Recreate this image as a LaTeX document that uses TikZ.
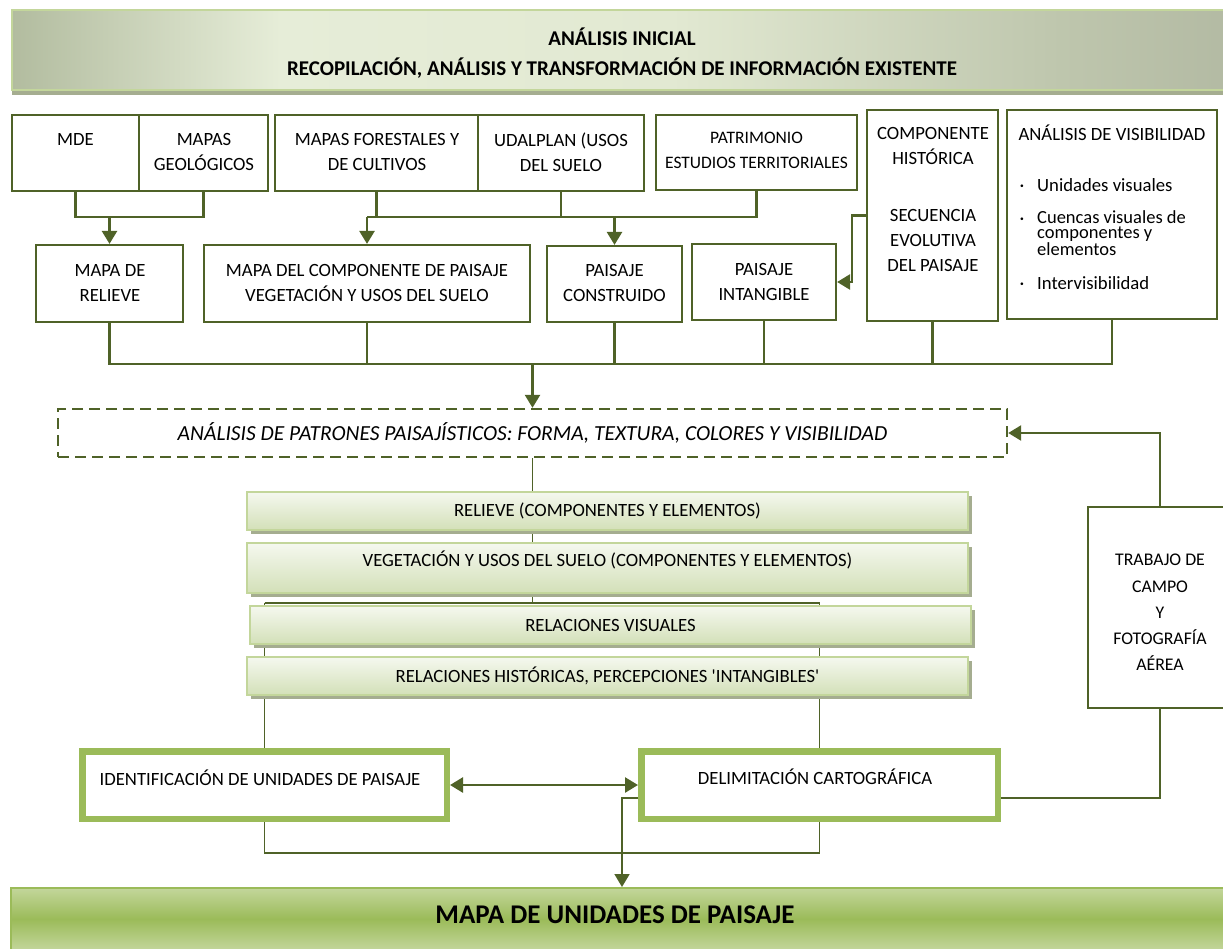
\documentclass[tikz,border=0pt]{standalone}
\usepackage{fontspec}
\setmainfont{Carlito}
\usetikzlibrary{arrows.meta,shadows,backgrounds}
\definecolor{olive}{HTML}{4F6228}
\definecolor{lgreen}{HTML}{9BBB59}
\definecolor{pgreen}{HTML}{C3D69B}
\definecolor{shad}{HTML}{A5AD90}
\definecolor{gtop}{HTML}{F5F8EF}
\definecolor{gbot}{HTML}{D3E0B8}
\definecolor{tbA}{HTML}{B2BC9F}
\definecolor{tbB}{HTML}{E6EDD8}
\definecolor{tbC}{HTML}{E2E9D2}
\definecolor{tbD}{HTML}{BEC6AD}
\definecolor{tbE}{HTML}{B3BAA3}
\pgfdeclarehorizontalshading{topban}{100bp}{color(0bp)=(tbA); color(25bp)=(tbA); color(36bp)=(tbB); color(52bp)=(tbC); color(68bp)=(tbD); color(75bp)=(tbE); color(100bp)=(tbE)}
\newcommand\fsz{\fontsize{18.7}{25}\selectfont}
\begin{document}
\begin{tikzpicture}[x=1pt,y=-1pt,
  box/.style={draw=olive, line width=2.2pt, fill=white, inner sep=0pt},
  lbl/.style={font=\fsz, align=center, inner sep=0pt},
  conn/.style={draw=olive, line width=2.6pt},
  thn/.style={draw=olive, line width=1.8pt},
  arr/.style={conn, -{Triangle[length=13pt,width=15pt]}},
  arrthin/.style={thn, -{Triangle[length=13pt,width=15pt]}},
  gbox/.style={draw=pgreen, line width=2pt, top color=gtop, bottom color=gbot, inner sep=0pt, font=\fsz,
    general shadow={fill=shad, shadow xshift=4pt, shadow yshift=-4pt}},
  gbox2/.style={draw=lgreen, line width=6.5pt, fill=white, inner sep=0pt},
  dot/.style={font=\fsz, inner sep=0pt, anchor=base}
]
\useasboundingbox (0,0) rectangle (1223,948);

% top banner
\node[draw=pgreen, line width=2pt, shade, shading=topban, minimum width=1220pt, minimum height=80pt, inner sep=0pt,
  general shadow={fill=shad, shadow xshift=0pt, shadow yshift=-5pt}] (tb) at (622,50) {};
\node[lbl, font=\fontsize{21}{25}\selectfont\bfseries] (tb1) at (622,37) {ANÁLISIS INICIAL};
\node[lbl, font=\fontsize{21}{25}\selectfont\bfseries] (tb2) at (622,68) {RECOPILACIÓN, ANÁLISIS Y TRANSFORMACIÓN DE INFORMACIÓN EXISTENTE};

% row 1
\node[box, minimum width=127pt, minimum height=76pt] (mde) at (75.5,153) {};
\node[box, minimum width=129pt, minimum height=76pt] (geo) at (203.5,153) {};
\node[box, minimum width=203pt, minimum height=76pt] (for) at (376.5,153) {};
\node[box, minimum width=166pt, minimum height=76pt] (udal) at (561,153) {};
\node[box, minimum width=201pt, minimum height=75pt] (pat) at (756.5,152.5) {};
\node[box, minimum width=131pt, minimum height=211pt] (comp) at (932.5,215.5) {};
\node[box, minimum width=210pt, minimum height=209pt] (vis) at (1112,214.5) {};

\node[lbl] (tmde) at (75.5,139) {MDE};
\node[lbl] (tgeo) at (204,152) {MAPAS\\GEOLÓGICOS};
\node[lbl] (tfor) at (377,152) {MAPAS FORESTALES Y\\DE CULTIVOS};
\node[lbl] (tudal) at (561,152) {UDALPLAN (USOS\\DEL SUELO};
\node[lbl, font=\fontsize{17.5}{25}\selectfont] (tpat) at (756.5,150) {PATRIMONIO\\ESTUDIOS TERRITORIALES};
\node[lbl] (tcomp1) at (933,145.5) {COMPONENTE\\HISTÓRICA};
\node[lbl] (tcomp2) at (933,240) {SECUENCIA\\EVOLUTIVA\\DEL PAISAJE};
\node[lbl] (tvis) at (1112,133) {ANÁLISIS DE VISIBILIDAD};
\node[dot] (d1) at (1022,191) {·};
\node[lbl, anchor=west] (v1) at (1037,185) {Unidades visuales};
\node[dot] (d2) at (1022,224) {·};
\node[lbl, anchor=west, align=left, font=\fontsize{18.5}{15.5}\selectfont] (v2) at (1037,233) {Cuencas visuales de\\componentes y\\elementos};
\node[dot] (d3) at (1022,289) {·};
\node[lbl, anchor=west] (v3) at (1037,283) {Intervisibilidad};

% row 2
\node[box, minimum width=147pt, minimum height=77pt] (rel) at (109.5,283.5) {};
\node[box, minimum width=326pt, minimum height=77pt] (veg) at (367,283.5) {};
\node[box, minimum width=135pt, minimum height=76pt] (con) at (614.5,284) {};
\node[box, minimum width=144pt, minimum height=76pt] (int) at (764,282) {};
\node[lbl] (trel) at (110,282.5) {MAPA DE\\RELIEVE};
\node[lbl] (tveg) at (367,282.5) {MAPA DEL COMPONENTE DE PAISAJE\\VEGETACIÓN Y USOS DEL SUELO};
\node[lbl] (tcon) at (614.5,282.5) {PAISAJE\\CONSTRUIDO};
\node[lbl] (tint) at (764,281.5) {PAISAJE\\INTANGIBLE};

% dashed analysis box
\node[draw=olive, line width=2.4pt, dash pattern=on 11pt off 6pt, minimum width=949pt, minimum height=48pt, inner sep=0pt, font=\fontsize{21.5}{25}\selectfont\itshape] (dash) at (532.5,433) {ANÁLISIS DE PATRONES PAISAJÍSTICOS: FORMA, TEXTURA, COLORES Y VISIBILIDAD};

% field work
\node[box, minimum width=144pt, minimum height=201pt] (trab) at (1160,607.5) {};
\node[lbl, font=\fontsize{17.8}{26.2}\selectfont] (ttrab) at (1160,612.5) {TRABAJO DE\\CAMPO\\Y\\FOTOGRAFÍA\\AÉREA};

% gradient boxes
\node[gbox, minimum width=721pt, minimum height=38pt] (g1) at (607.5,511) {RELIEVE (COMPONENTES Y ELEMENTOS)};
\node[gbox, minimum width=721pt, minimum height=50pt] (g2) at (607.5,568) {};
\node[lbl] (tg2) at (607.5,560) {VEGETACIÓN Y USOS DEL SUELO (COMPONENTES Y ELEMENTOS)};
\node[gbox, minimum width=721pt, minimum height=38pt] (g3) at (610.5,625) {RELACIONES VISUALES};
\node[gbox, minimum width=721pt, minimum height=38pt] (g4) at (607.5,676) {RELACIONES HISTÓRICAS, PERCEPCIONES \textquotesingle INTANGIBLES\textquotesingle};

% lower boxes
\node[gbox2, minimum width=364.5pt, minimum height=67.5pt] (idb) at (264.5,785) {};
\node[gbox2, minimum width=356.5pt, minimum height=67.5pt] (dlb) at (819.5,785) {};
\node[lbl] (tid) at (260,778) {IDENTIFICACIÓN DE UNIDADES DE PAISAJE};
\node[lbl] (tdl) at (815,777) {DELIMITACIÓN CARTOGRÁFICA};

% bottom banner
\node[draw=lgreen, line width=2pt, top color=pgreen, bottom color=pgreen, middle color=lgreen, minimum width=1221pt, minimum height=62pt, inner sep=0pt] (mapa) at (621.5,919) {};
\node[lbl, font=\fontsize{27}{30}\selectfont\bfseries] (tmapa) at (615,915) {MAPA DE UNIDADES DE PAISAJE};

% junctions
\coordinate (j1) at (109.5,217);
\coordinate (j2) at (367,217);
\coordinate (j3) at (614.5,217);
\coordinate (j4) at (532.5,364);
\coordinate (hm) at (532.5,603);
\coordinate (h1) at (264.5,603);
\coordinate (h2) at (819.5,603);
\coordinate (h3) at (264.5,853);
\coordinate (k) at (622,798);

\begin{scope}[on background layer]
  \draw[conn] (mde.south) -- (mde.south |- j1) -- (geo.south |- j1) -- (geo.south);
  \draw[conn] (j2) -- (pat.south |- j2) -- (pat.south);
  \draw[conn] (for.south) -- (for.south |- j2);
  \draw[conn] (udal.south) -- (udal.south |- j2);
  \draw[conn] (rel.south) -- (rel.south |- j4) -- (vis.south |- j4) -- (vis.south);
  \draw[conn] (veg.south) -- (veg.south |- j4);
  \draw[conn] (con.south) -- (con.south |- j4);
  \draw[conn] (int.south) -- (int.south |- j4);
  \draw[conn] (comp.south) -- (comp.south |- j4);
  \draw[thn] (dash.south) -- (dash.south |- g1.north);
  \draw[thn] (g1.south -| hm) -- (g2.north -| hm);
  \draw[thn] (g2.south -| hm) -- (hm);
  \draw[thn] (h1) -- (h2);
  \draw[thn] (h1) -- (idb.north);
  \draw[thn] (h2) -- (dlb.north);
  \draw[thn] (idb.south) -- (h3) -- (dlb.south |- h3) -- (dlb.south);
\end{scope}

\draw[arr] (j1) -- (rel.north);
\draw[arr] (j2) -- (veg.north);
\draw[arr] (j3) -- (con.north);
\draw[arr] (comp.west) -- ++(-14,0) |- (int.east);
\draw[arr] (j4) -- (dash.north);
\draw[arr] (trab.north) |- (dash.east);
\draw[conn, {Triangle[length=13pt,width=15pt]}-{Triangle[length=13pt,width=15pt]}] (idb.east) -- (dlb.west);
\draw[thn] ([yshift=-13pt]dlb.east) -| (trab.south);
\draw[arrthin] ([yshift=-13pt]dlb.west) -| (k |- mapa.north);
\end{tikzpicture}
\end{document}
